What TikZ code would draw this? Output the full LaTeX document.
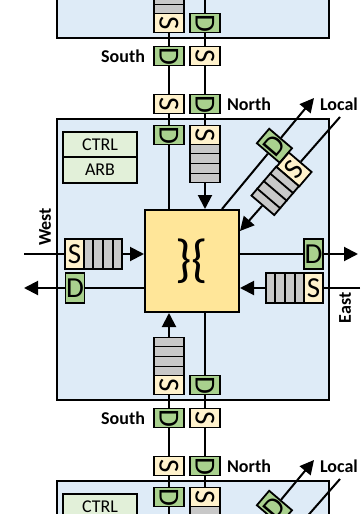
\documentclass[tikz,border=0pt]{standalone}
\usepackage{fontspec}
\setmainfont{Carlito}
\usetikzlibrary{calc,arrows.meta,positioning}
\definecolor{tileblue}{RGB}{222,235,247}
\definecolor{xbaryellow}{RGB}{255,230,153}
\definecolor{srccream}{RGB}{255,242,204}
\definecolor{dstgreen}{RGB}{169,209,142}
\definecolor{ctrlgreen}{RGB}{226,240,217}
\definecolor{queuegray}{RGB}{200,200,200}
% dividers of a four-slot input queue
\newcommand{\qcells}[1]{%
  \foreach \c in {1,2,3}
    \draw[line width=1.8pt] ($(#1.north west)!\c/4!(#1.north east)$) -- ($(#1.south west)!\c/4!(#1.south east)$);}

\begin{document}
\begin{tikzpicture}[x=1pt,y=-1pt,
    wire/.style={line width=2pt},
    flow/.style={line width=2pt,-{Triangle[length=14pt,width=14pt]}},
    tile/.style={draw,line width=2.5pt,fill=tileblue,minimum width=272pt,minimum height=281pt},
    ctrlbox/.style={draw,line width=1.8pt,fill=ctrlgreen,inner sep=0pt,minimum width=74pt,minimum height=25.5pt,font=\fontsize{18}{20}\selectfont},
    xbar/.style={draw,line width=2pt,fill=xbaryellow,minimum width=94pt,minimum height=102pt,font=\fontsize{52}{52}\selectfont},
    buf/.style={draw,line width=1.8pt,inner sep=0pt,minimum width=19pt,minimum height=30pt,font=\fontsize{29}{29}\selectfont},
    sbuf/.style={buf,fill=srccream},
    dbuf/.style={buf,fill=dstgreen},
    fifo/.style={draw,line width=1.8pt,fill=queuegray,inner sep=0pt,minimum width=38pt,minimum height=30pt},
    lbl/.style={font=\bfseries\fontsize{18}{20}\selectfont,inner sep=0pt}]
    \useasboundingbox (0,0) rectangle (360,514);
    \clip (0,0) rectangle (360,514);

    \foreach \k in {1,2,3} {
    \begin{scope}[shift={(0,{(\k-2)*362})}]
    % Router tile
    \node[tile] (rt\k) at (193,259.5) {};
    \node[xbar] (sw\k) at (192,261) {\}\{};

    \ifnum\k>1
    \node[ctrlbox] (ctrl\k) at (100,144.5) {CTRL};
    % North port
    \node[dbuf,rotate=-90] (nD\k) at (169,135) {D};
    \node[sbuf,rotate=-90] (nS\k) at (205,135) {S};
    \node[fifo,rotate=-90] (nQ\k) at (205,163.5) {};
    \qcells{nQ\k}
    \draw[wire] (sw\k.north -| nD\k) -- (nD\k);
    \draw[flow] (nQ\k) -- (sw\k.north -| nQ\k);
    \node[sbuf,rotate=-90] (nLS\k) at (169,104) {S};
    \node[dbuf,rotate=-90] (nLD\k) at (205,104) {D};
    \node[lbl,right=6pt of nLD\k.north] (nlab\k) {North};
    \draw[wire] (nD\k) -- (nLS\k);
    \draw[wire] (nLD\k) -- (nS\k);

    % Local port
    \coordinate (lSrc\k) at ([xshift=30pt]sw\k.north);
    \coordinate (lOut\k) at (314,98);
    \coordinate (lIn\k) at (340,117);
    \coordinate (lDst\k) at ([yshift=-22pt]sw\k.north east);
    \node[dbuf,rotate=49.5] (lD\k) at ($(lSrc\k)!0.57!(lOut\k)$) {D};
    \node[sbuf,rotate=49.5] (lS\k) at ($(lIn\k)!0.46!(lDst\k)$) {S};
    \node[fifo,rotate=49.5] (lQ\k) at ($(lIn\k)!0.648!(lDst\k)$) {};
    \qcells{lQ\k}
    \draw[wire] (lSrc\k) -- (lD\k);
    \draw[flow] (lD\k) -- (lOut\k);
    \draw[wire] (lIn\k) -- (lS\k);
    \draw[flow] (lQ\k) -- (lDst\k);
    \node[lbl] (llab\k) at (339,104) {Local};
    \fi

    \ifnum\k<3
    % South port
    \node[sbuf,rotate=-90] (sS\k) at (169,385) {S};
    \node[fifo,rotate=-90] (sQ\k) at (169,356.5) {};
    \qcells{sQ\k}
    \node[dbuf,rotate=-90] (sD\k) at (205,385) {D};
    \draw[flow] (sQ\k) -- (sw\k.south -| sQ\k);
    \draw[wire] (sw\k.south -| sD\k) -- (sD\k);
    \node[dbuf,rotate=-90] (sLD\k) at (169,418) {D};
    \node[sbuf,rotate=-90] (sLS\k) at (205,418) {S};
    \node[lbl,left=8pt of sLD\k.south] (slab\k) {South};
    \draw[wire] (sLD\k) -- (sS\k);
    \draw[wire] (sD\k) -- (sLS\k);
    \fi

    \ifnum\k=2
    \node[ctrlbox] (arb\k) at (100,170) {ARB};
    % West port
    \node[sbuf] (wS\k) at (74.5,254) {S};
    \node[fifo] (wQ\k) at (103,254) {};
    \qcells{wQ\k}
    \node[dbuf] (wD\k) at (75,288) {D};
    \coordinate (wIn\k) at (24,254);
    \coordinate (wOut\k) at (24,288);
    \draw[wire] (wIn\k) -- (wS\k);
    \draw[flow] (wQ\k) -- (sw\k.west |- wQ\k);
    \draw[wire] (sw\k.west |- wD\k) -- (wD\k);
    \draw[flow] (wD\k) -- (wOut\k);
    \node[lbl,rotate=90] (wlab\k) at (45,227) {West};

    % East port
    \node[dbuf] (eD\k) at (313.5,254) {D};
    \node[sbuf] (eS\k) at (313.5,288) {S};
    \node[fifo] (eQ\k) at (285,288) {};
    \qcells{eQ\k}
    \coordinate (eOut\k) at (358,254);
    \coordinate (eIn\k) at (360,288);
    \draw[wire] (sw\k.east |- eD\k) -- (eD\k);
    \draw[flow] (eD\k) -- (eOut\k);
    \draw[wire] (eIn\k) -- (eS\k);
    \draw[flow] (eQ\k) -- (sw\k.east |- eQ\k);
    \node[lbl,rotate=90] (elab\k) at (345,308) {East};
    \fi
    \end{scope}
    }

    % Links between neighbouring routers
    \foreach \k/\j in {1/2,2/3} {
        \draw[wire] (nLS\j) -- (sLD\k);
        \draw[wire] (sLS\k) -- (nLD\j);
    }
\end{tikzpicture}
\end{document}
